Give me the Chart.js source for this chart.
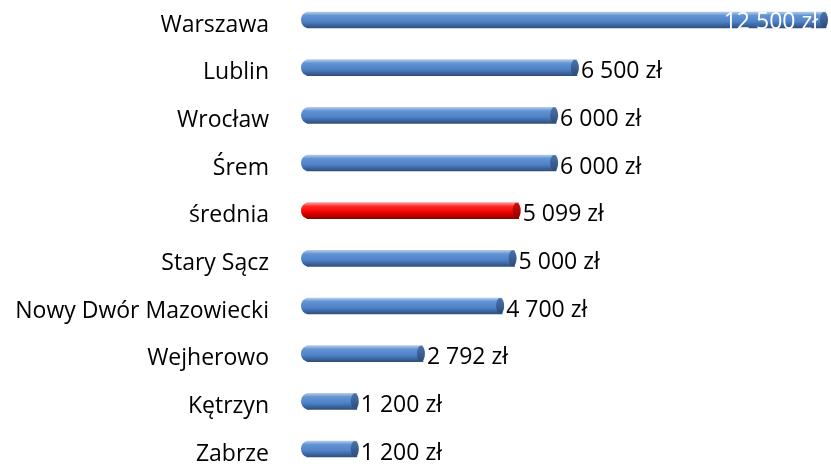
<!DOCTYPE html>
<html>
<head>
<meta charset="utf-8">
<script src="https://cdn.jsdelivr.net/npm/chart.js@4.4.0/dist/chart.umd.min.js"></script>
<style>
  html, body { margin: 0; padding: 0; background: #fff; }
  #wrap { width: 831px; height: 467px; }
</style>
</head>
<body>
<div id="wrap"><canvas id="chart"></canvas></div>
<script>
// Dane
var cities = ["Warszawa", "Lublin", "Wrocław", "Śrem", "średnia", "Stary Sącz",
  "Nowy Dwór Mazowiecki", "Wejherowo", "Kętrzyn", "Zabrze"];
var amounts = [12500, 6500, 6000, 6000, 5099, 5000, 4700, 2792, 1200, 1200];
var highlight = "średnia";

var FONT = "'Open Sans', sans-serif";
var BAR_H = 16;

function fmt(v) {
  return String(v).replace(/\B(?=(\d{3})+(?!\d))/g, " ") + " zł";
}

function makeGrad(ctx, y, red) {
  var g = ctx.createLinearGradient(0, y - BAR_H / 2, 0, y + BAR_H / 2);
  if (red) {
    g.addColorStop(0, "#ff9a9a");
    g.addColorStop(0.22, "#ff2a2a");
    g.addColorStop(0.6, "#f20000");
    g.addColorStop(1, "#8a0000");
  } else {
    g.addColorStop(0, "#b3cbea");
    g.addColorStop(0.22, "#6393d4");
    g.addColorStop(0.6, "#4f82c8");
    g.addColorStop(1, "#2e4f7e");
  }
  return g;
}

// Gradient walca dla kazdego slupka
function barFill(c) {
  var chart = c.chart;
  var red = cities[c.dataIndex] === highlight;
  if (!chart.chartArea) return red ? "#e00000" : "#4f81bd";
  return makeGrad(chart.ctx, chart.scales.y.getPixelForValue(c.dataIndex), red);
}

// Zaokraglony poczatek walca, denko + etykiety wartosci
var cylinder = {
  id: "cylinder",
  beforeDatasetsDraw: function(chart) {
    var ctx = chart.ctx;
    ctx.save();
    chart.getDatasetMeta(0).data.forEach(function(el, i) {
      var h = el.height;
      ctx.beginPath();
      ctx.ellipse(el.base + 1, el.y, 7, h / 2, 0, Math.PI / 2, Math.PI * 1.5);
      ctx.closePath();
      ctx.fillStyle = makeGrad(ctx, el.y, cities[i] === highlight);
      ctx.fill();
    });
    ctx.restore();
  },
  afterDatasetsDraw: function(chart) {
    var ctx = chart.ctx;
    ctx.save();
    chart.getDatasetMeta(0).data.forEach(function(el, i) {
      var red = cities[i] === highlight;
      var h = el.height;
      var g = ctx.createLinearGradient(0, el.y - h / 2, 0, el.y + h / 2);
      g.addColorStop(0, red ? "#d01010" : "#4a73ad");
      g.addColorStop(1, red ? "#900000" : "#2c4c7a");
      ctx.beginPath();
      ctx.ellipse(el.x - 2, el.y, 4, h / 2, 0, 0, Math.PI * 2);
      ctx.fillStyle = g;
      ctx.fill();
      ctx.font = "23px " + FONT;
      ctx.textBaseline = "middle";
      if (i === 0) {
        ctx.fillStyle = "#ffffff";
        ctx.textAlign = "right";
        ctx.fillText(fmt(amounts[i]), el.x - 8, el.y + 2);
      } else {
        ctx.fillStyle = "#000000";
        ctx.textAlign = "left";
        ctx.fillText(fmt(amounts[i]), el.x + 4, el.y + 4);
      }
    });
    ctx.restore();
  }
};

new Chart(document.getElementById("chart"), {
  type: "bar",
  data: {
    labels: cities,
    datasets: [{
      data: amounts,
      backgroundColor: barFill,
      borderWidth: 0,
      barThickness: BAR_H,
      borderSkipped: false,
      borderRadius: 0,
      clip: 20
    }]
  },
  options: {
    indexAxis: "y",
    responsive: true,
    maintainAspectRatio: false,
    animation: false,
    layout: { padding: { top: 20, bottom: 18, right: 5, left: 0 } },
    plugins: { legend: { display: false }, tooltip: { enabled: false } },
    scales: {
      x: {
        min: 0, max: 12500,
        display: false,
        grid: { display: false }
      },
      y: {
        offset: false,
        grid: { display: true, drawOnChartArea: false, drawTicks: true, tickLength: 38, color: "rgba(0,0,0,0)" },
        border: { display: false },
        afterFit: function(s) { s.width = 307; },
        ticks: {
          color: "#000",
          padding: 0,
          labelOffset: 5,
          font: { family: FONT, size: 23 }
        }
      }
    }
  },
  plugins: [cylinder]
});
</script>
</body>
</html>
